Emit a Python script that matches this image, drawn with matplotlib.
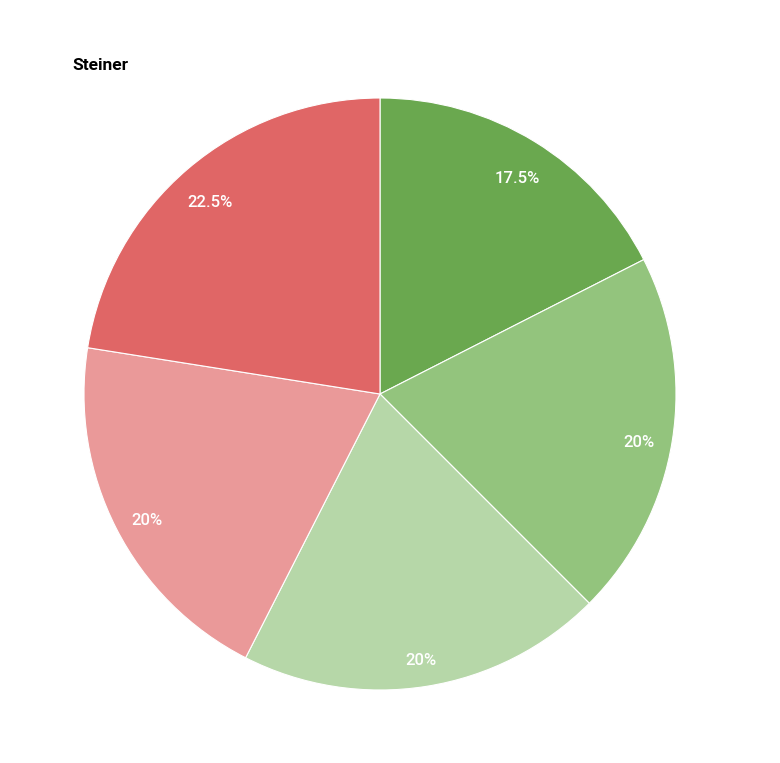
import matplotlib
matplotlib.use("Agg")
import matplotlib.pyplot as plt

categories = ["A", "B", "C", "D", "E"]
values = [17.5, 20, 20, 20, 22.5]
colors = ["#6aa84f", "#93c47d", "#b6d7a8", "#ea9999", "#e06666"]
title = "Steiner"

plt.rcParams['font.family'] = ['Roboto', 'DejaVu Sans']

fig = plt.figure(figsize=(7.80, 7.63), dpi=100)
fig.patch.set_facecolor("white")
ax = fig.add_axes([84/780, (763-690)/763, 592/780, 592/763])
wedges, texts, autotexts = ax.pie(
    values, colors=colors, startangle=90, counterclock=False,
    autopct=lambda p: f"{p:.1f}%".replace(".0%", "%"),
    pctdistance=0.885, radius=1,
    wedgeprops=dict(edgecolor="white", linewidth=0.8),
    textprops=dict(color="white", fontsize=12, fontweight="medium"))
for t in autotexts:
    t.set_va("top")
ax.set_xlim(-1, 1)
ax.set_ylim(-1, 1)
ax.set_aspect("equal")
ax.axis("off")
fig.text(72/780, 1 - 66/763, title, fontsize=12.5, fontweight="bold",
         ha="left", va="center", color="black")
fig.savefig("out.png", dpi=100)
